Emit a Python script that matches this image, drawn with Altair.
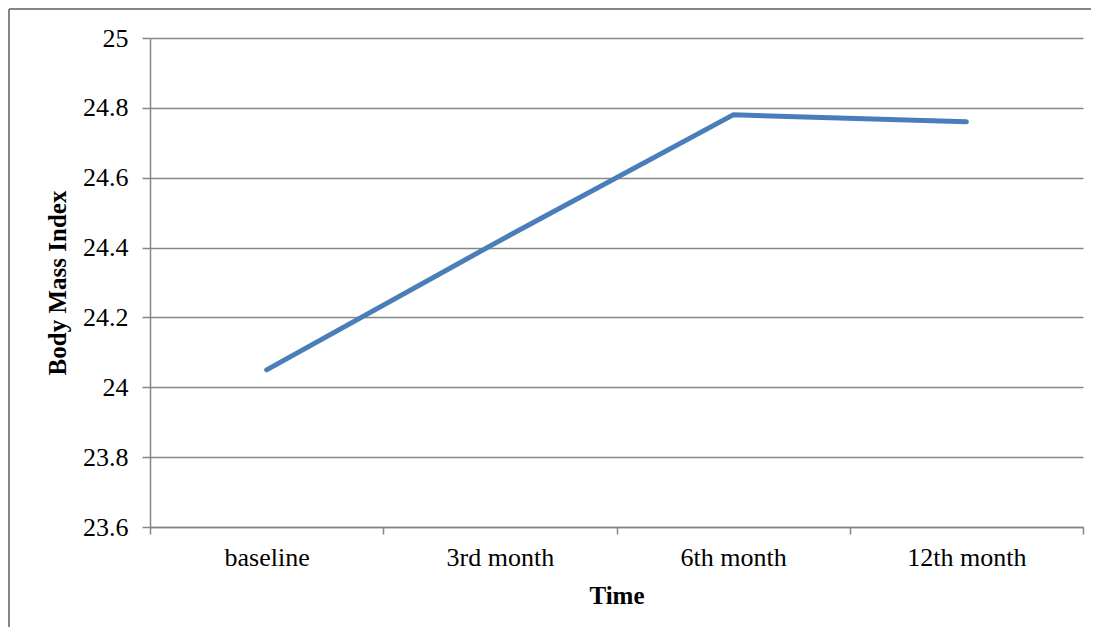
import altair as alt
import pandas as pd

categories = ["baseline", "3rd month", "6th month", "12th month"]
bmi = [24.05, 24.42, 24.78, 24.76]
y_ticks = [23.6, 23.8, 24.0, 24.2, 24.4, 24.6, 24.8, 25.0]

df = pd.DataFrame({"Time": categories, "BMI": bmi})

W, H = 933, 489
GRAY = "#868686"
FONT = "Liberation Serif"

line = alt.Chart(df).mark_line(color="#4a7ebb", strokeWidth=5, strokeCap="round", strokeJoin="round").encode(
    x=alt.X("Time:N", sort=categories, bandPosition=0.5,
            scale=alt.Scale(type="band", paddingInner=0, paddingOuter=0),
            axis=alt.Axis(title="Time", labelAngle=0, tickBand="extent", tickSize=7,
                          labelPadding=10, titlePadding=13, grid=False,
                          domainColor=GRAY, tickColor=GRAY, domainWidth=1.5, tickWidth=1.5)),
    y=alt.Y("BMI:Q", scale=alt.Scale(domain=[23.6, 25], nice=False, zero=False),
            axis=alt.Axis(title="Body Mass Index", values=y_ticks, format="~g", tickSize=8,
                          labelPadding=14, titlePadding=12, grid=True,
                          gridColor=GRAY, gridWidth=1.5, domainColor=GRAY, tickColor=GRAY,
                          domainWidth=1.5, tickWidth=1.5)),
)

one = pd.DataFrame({"a": [0]})
frame_top = alt.Chart(one).mark_rule(color=GRAY, strokeWidth=2, clip=False).encode(
    x=alt.value(-141), x2=alt.value(W + 20), y=alt.value(-29)
)
frame_left = alt.Chart(one).mark_rule(color=GRAY, strokeWidth=2, clip=False).encode(
    x=alt.value(-141), y=alt.value(-29), y2=alt.value(H + 200)
)

chart = alt.layer(frame_top, frame_left, line).properties(
    width=W, height=H,
    padding={"left": 142, "top": 30, "right": 8, "bottom": 100},
    autosize=alt.AutoSizeParams(type="none"),
).configure_view(stroke=None).configure_axis(
    labelFont=FONT, labelFontSize=26, labelColor="#000000",
    titleFont=FONT, titleFontSize=25, titleFontWeight="bold", titleColor="#000000",
)

chart.save("out.html", embed_options={"renderer": "svg", "actions": False})
